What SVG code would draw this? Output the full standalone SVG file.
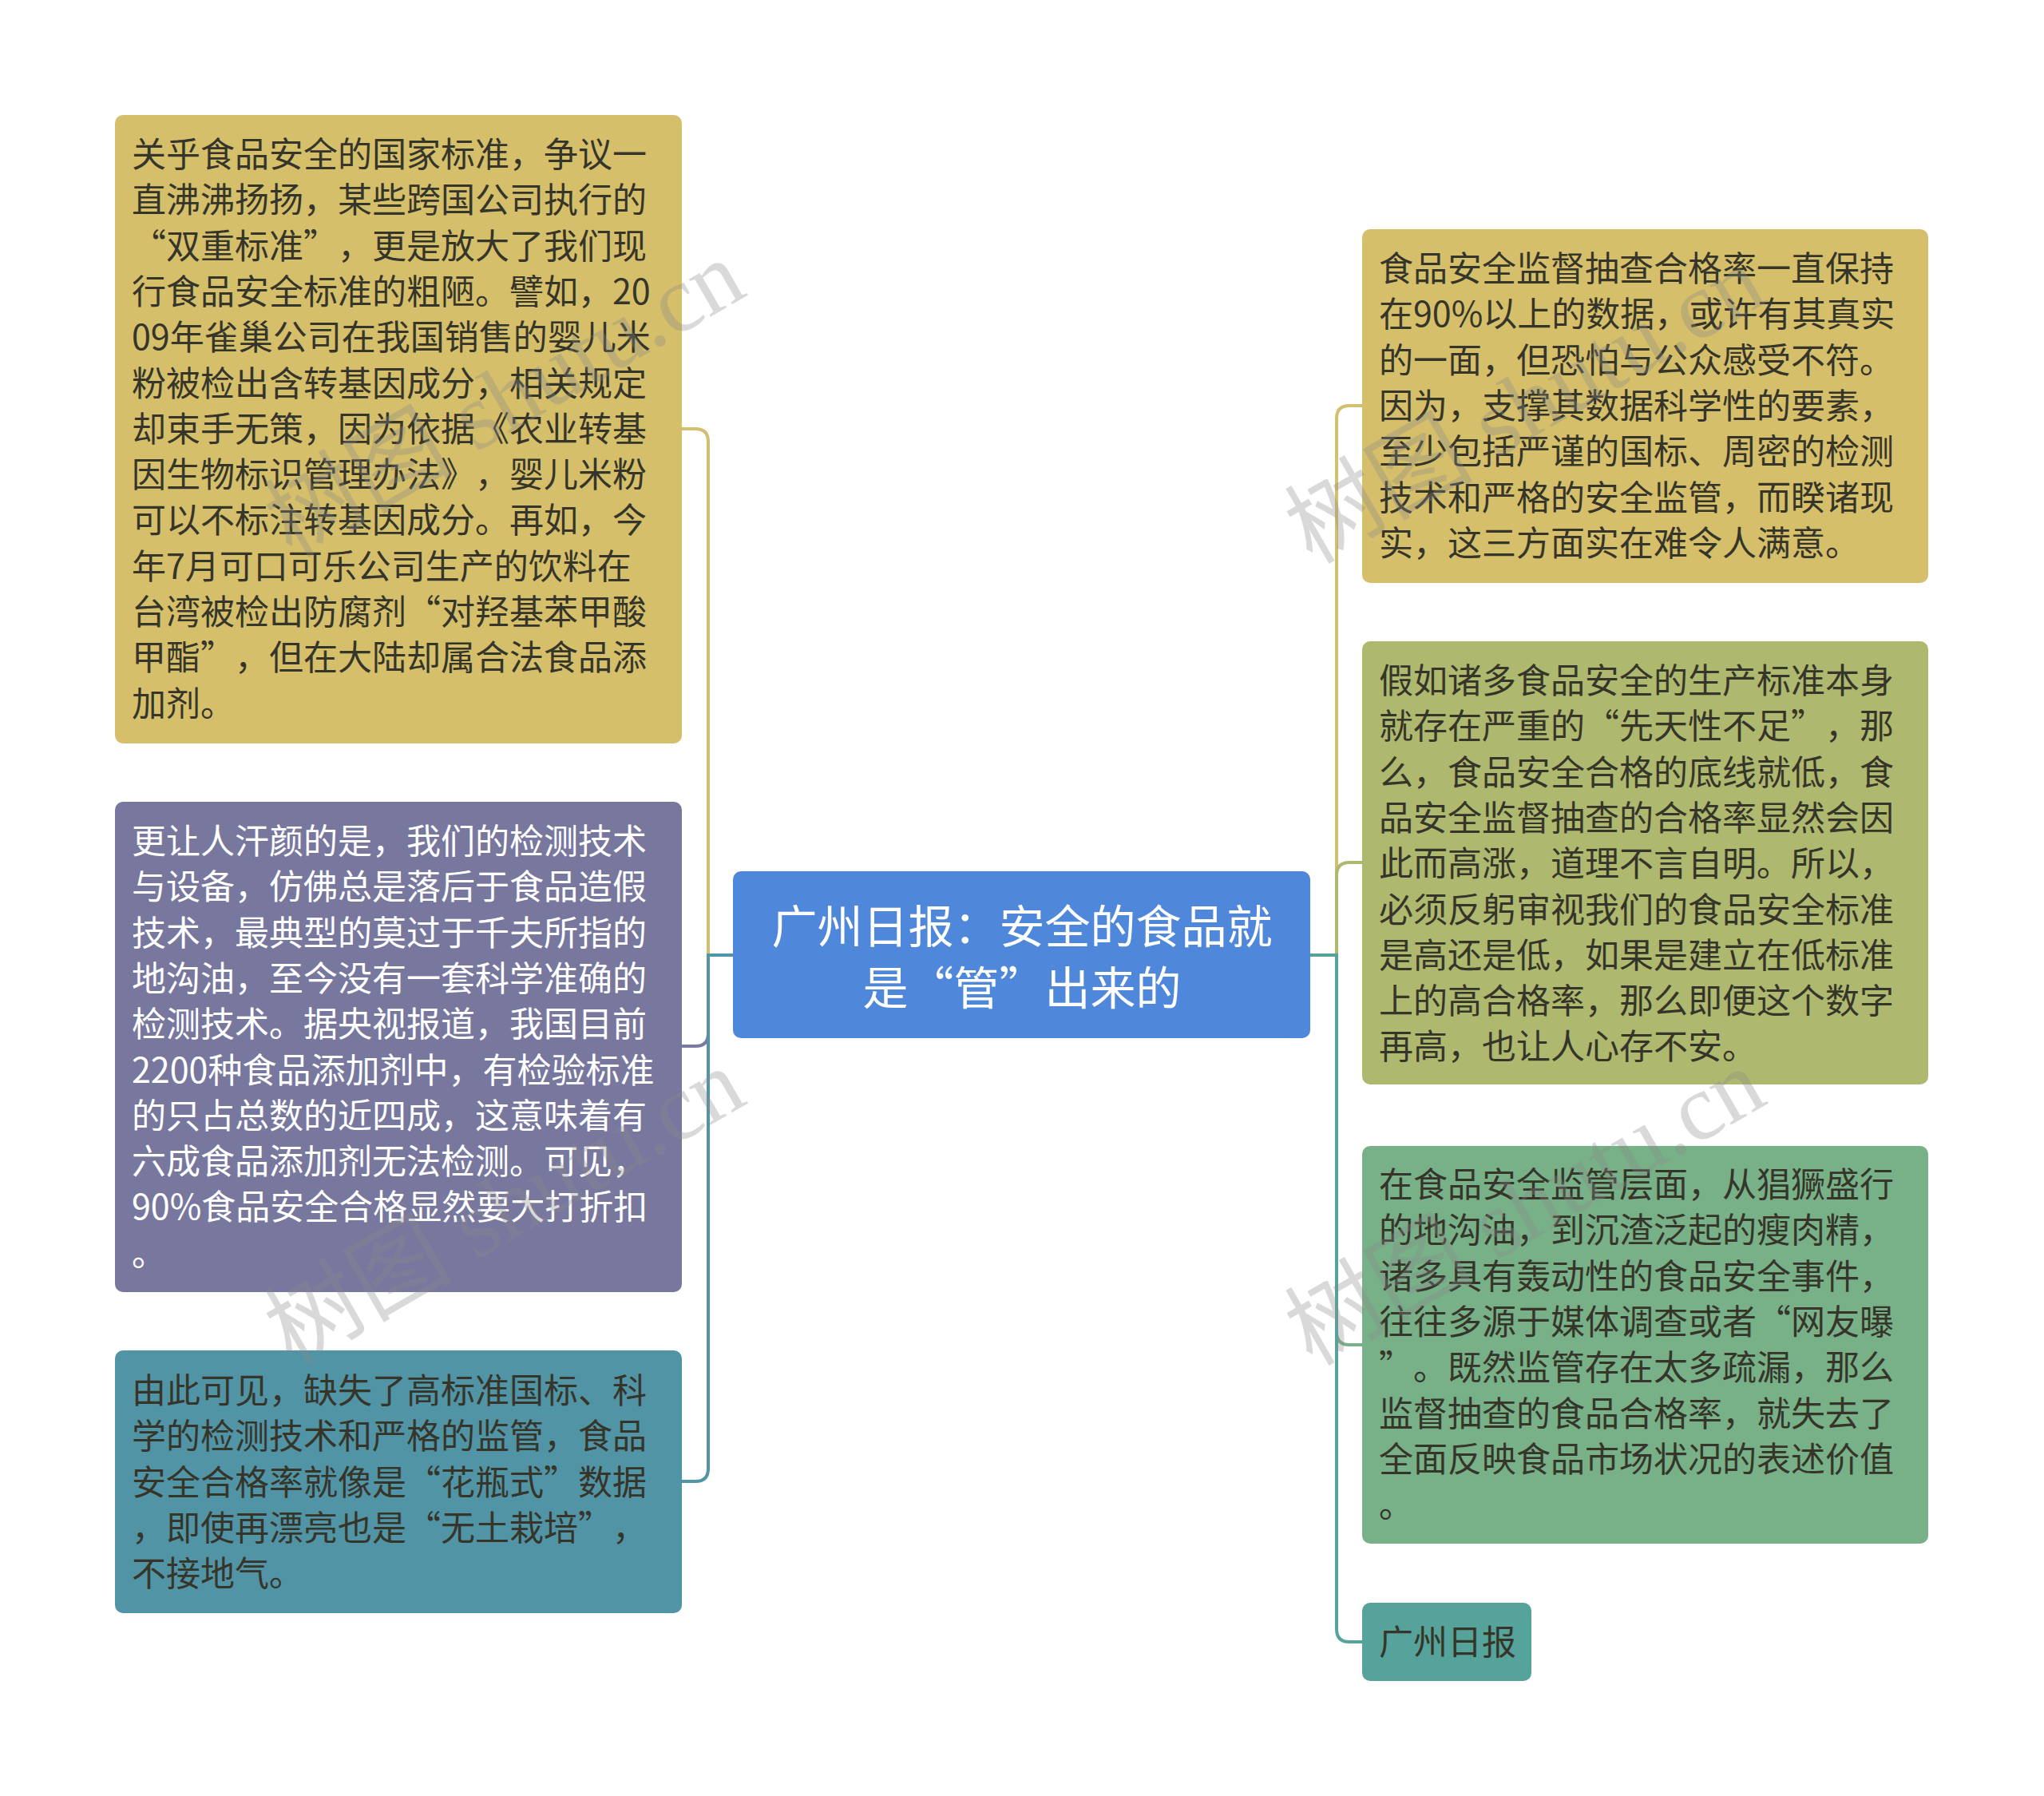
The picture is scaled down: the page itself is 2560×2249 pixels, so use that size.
<svg xmlns="http://www.w3.org/2000/svg" width="2560" height="2249" viewBox="0 0 2560 2249">
<style>
text{text-spacing-trim:space-all;}
.t{font-family:"Noto Sans CJK SC","Noto Sans",sans-serif;font-size:43px;}
.dark{fill:#36352a;}
.light{fill:#ffffff;}
.title{font-family:"Noto Sans CJK SC","Noto Sans",sans-serif;font-size:57px;fill:#ffffff;}
.wm{font-family:"Liberation Serif","Noto Sans CJK SC",serif;font-size:118px;fill:#8a8a8a;fill-opacity:0.32;}
.c{fill:none;stroke-width:4;}
</style>
<rect width="2560" height="2249" fill="#ffffff"/>
<g id="connectors">
<path class="c" stroke="#d3bf6e" d="M918,1196 H887 V553 Q887,537 871,537 H854"/>
<path class="c" stroke="#7a7aa2" d="M918,1196 H887 V1294 Q887,1310 871,1310 H854"/>
<path class="c" stroke="#5195a6" d="M918,1196 H887 V1839 Q887,1855 871,1855 H854"/>
<path class="c" stroke="#d3bf6e" d="M1641,1196 H1674 V524 Q1674,508 1690,508 H1706"/>
<path class="c" stroke="#aeb86e" d="M1641,1196 H1674 V1096 Q1674,1080 1690,1080 H1706"/>
<path class="c" stroke="#78b088" d="M1641,1196 H1674 V1668 Q1674,1684 1690,1684 H1706"/>
<path class="c" stroke="#55a39b" d="M1641,1196 H1674 V2040 Q1674,2056 1690,2056 H1706"/>
</g>
<g id="center">
<rect x="918" y="1091" width="723" height="209" rx="10" fill="#4f87da"/>
<text class="title" text-anchor="middle"><tspan x="1280" y="1181">广州日报：安全的食品就</tspan><tspan x="1280" y="1258">是“管”出来的</tspan></text>
</g>
<g id="left1">
<rect x="144" y="144" width="710" height="787" rx="10" fill="#d5bf6b"/>
<text class="t dark">
<tspan x="165" y="209">关乎食品安全的国家标准，争议一</tspan>
<tspan x="165" y="266.3">直沸沸扬扬，某些跨国公司执行的</tspan>
<tspan x="165" y="323.6">“双重标准”，更是放大了我们现</tspan>
<tspan x="165" y="380.9">行食品安全标准的粗陋。譬如，20</tspan>
<tspan x="165" y="438.2">09年雀巢公司在我国销售的婴儿米</tspan>
<tspan x="165" y="495.5">粉被检出含转基因成分，相关规定</tspan>
<tspan x="165" y="552.8">却束手无策，因为依据《农业转基</tspan>
<tspan x="165" y="610.1">因生物标识管理办法》，婴儿米粉</tspan>
<tspan x="165" y="667.4">可以不标注转基因成分。再如，今</tspan>
<tspan x="165" y="724.7">年7月可口可乐公司生产的饮料在</tspan>
<tspan x="165" y="782">台湾被检出防腐剂“对羟基苯甲酸</tspan>
<tspan x="165" y="839.3">甲酯”，但在大陆却属合法食品添</tspan>
<tspan x="165" y="896.6">加剂。</tspan>
</text>
</g>
<g id="left2">
<rect x="144" y="1004" width="710" height="614" rx="10" fill="#78789f"/>
<text class="t light">
<tspan x="165" y="1069">更让人汗颜的是，我们的检测技术</tspan>
<tspan x="165" y="1126.3">与设备，仿佛总是落后于食品造假</tspan>
<tspan x="165" y="1183.6">技术，最典型的莫过于千夫所指的</tspan>
<tspan x="165" y="1240.9">地沟油，至今没有一套科学准确的</tspan>
<tspan x="165" y="1298.2">检测技术。据央视报道，我国目前</tspan>
<tspan x="165" y="1355.5">2200种食品添加剂中，有检验标准</tspan>
<tspan x="165" y="1412.8">的只占总数的近四成，这意味着有</tspan>
<tspan x="165" y="1470.1">六成食品添加剂无法检测。可见，</tspan>
<tspan x="165" y="1527.4">90%食品安全合格显然要大打折扣</tspan>
<tspan x="165" y="1584.7">。</tspan>
</text>
</g>
<g id="left3">
<rect x="144" y="1691" width="710" height="329" rx="10" fill="#5194a6"/>
<text class="t dark">
<tspan x="165" y="1757">由此可见，缺失了高标准国标、科</tspan>
<tspan x="165" y="1814.3">学的检测技术和严格的监管，食品</tspan>
<tspan x="165" y="1871.6">安全合格率就像是“花瓶式”数据</tspan>
<tspan x="165" y="1928.9">，即使再漂亮也是“无土栽培”，</tspan>
<tspan x="165" y="1986.2">不接地气。</tspan>
</text>
</g>
<g id="right1">
<rect x="1706" y="287" width="709" height="443" rx="10" fill="#d5bf6b"/>
<text class="t dark">
<tspan x="1727" y="352">食品安全监督抽查合格率一直保持</tspan>
<tspan x="1727" y="409.3">在90%以上的数据，或许有其真实</tspan>
<tspan x="1727" y="466.6">的一面，但恐怕与公众感受不符。</tspan>
<tspan x="1727" y="523.9">因为，支撑其数据科学性的要素，</tspan>
<tspan x="1727" y="581.2">至少包括严谨的国标、周密的检测</tspan>
<tspan x="1727" y="638.5">技术和严格的安全监管，而睽诸现</tspan>
<tspan x="1727" y="695.8">实，这三方面实在难令人满意。</tspan>
</text>
</g>
<g id="right2">
<rect x="1706" y="803" width="709" height="555" rx="10" fill="#aeb86e"/>
<text class="t dark">
<tspan x="1727" y="868">假如诸多食品安全的生产标准本身</tspan>
<tspan x="1727" y="925.3">就存在严重的“先天性不足”，那</tspan>
<tspan x="1727" y="982.6">么，食品安全合格的底线就低，食</tspan>
<tspan x="1727" y="1039.9">品安全监督抽查的合格率显然会因</tspan>
<tspan x="1727" y="1097.2">此而高涨，道理不言自明。所以，</tspan>
<tspan x="1727" y="1154.5">必须反躬审视我们的食品安全标准</tspan>
<tspan x="1727" y="1211.8">是高还是低，如果是建立在低标准</tspan>
<tspan x="1727" y="1269.1">上的高合格率，那么即便这个数字</tspan>
<tspan x="1727" y="1326.4">再高，也让人心存不安。</tspan>
</text>
</g>
<g id="right3">
<rect x="1706" y="1435" width="709" height="498" rx="10" fill="#78b088"/>
<text class="t dark">
<tspan x="1727" y="1499">在食品安全监管层面，从猖獗盛行</tspan>
<tspan x="1727" y="1556.3">的地沟油，到沉渣泛起的瘦肉精，</tspan>
<tspan x="1727" y="1613.6">诸多具有轰动性的食品安全事件，</tspan>
<tspan x="1727" y="1670.9">往往多源于媒体调查或者“网友曝</tspan>
<tspan x="1727" y="1728.2">”。既然监管存在太多疏漏，那么</tspan>
<tspan x="1727" y="1785.5">监督抽查的食品合格率，就失去了</tspan>
<tspan x="1727" y="1842.8">全面反映食品市场状况的表述价值</tspan>
<tspan x="1727" y="1900.1">。</tspan>
</text>
</g>
<g id="right4">
<rect x="1706" y="2007" width="212" height="98" rx="10" fill="#55a39b"/>
<text class="t dark" x="1727" y="2072">广州日报</text>
</g>
<g id="watermarks">
<text class="wm" text-anchor="middle" transform="translate(652,534) rotate(-30)">树图 shutu.cn</text>
<text class="wm" text-anchor="middle" transform="translate(652,1546) rotate(-30)">树图 shutu.cn</text>
<text class="wm" text-anchor="middle" transform="translate(1930,542) rotate(-30)">树图 shutu.cn</text>
<text class="wm" text-anchor="middle" transform="translate(1930,1546) rotate(-30)">树图 shutu.cn</text>
</g>
</svg>
